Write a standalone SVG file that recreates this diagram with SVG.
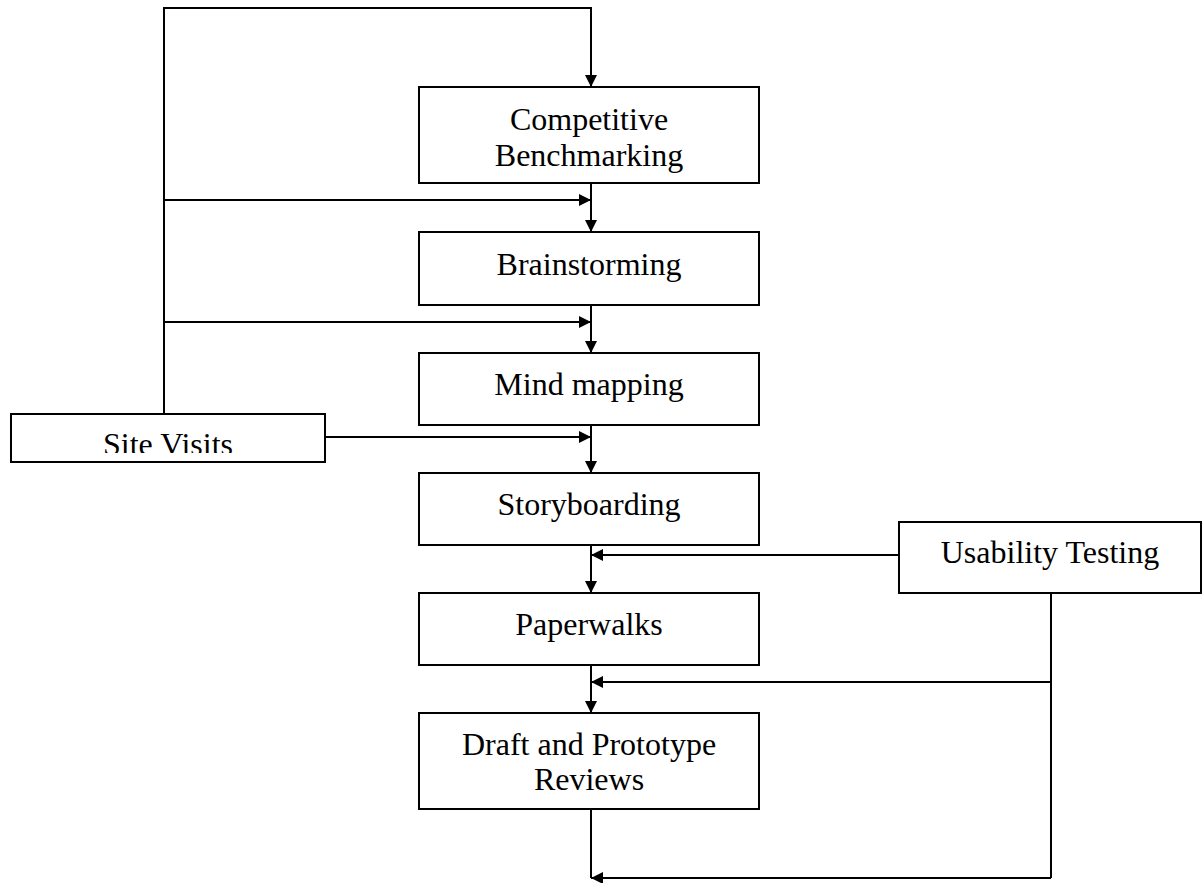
<svg xmlns="http://www.w3.org/2000/svg" width="1203" height="883" viewBox="0 0 1203 883">
  <style>
    .box { fill: #fff; stroke: #000; stroke-width: 2; }
    .lbl { font-family: "Liberation Serif", "Times New Roman", serif; font-size: 32px; fill: #000; text-anchor: middle; }
    .wire { fill: none; stroke: #000; stroke-width: 2; }
  </style>
  <defs>
    <marker id="arrow" viewBox="0 0 12 12" refX="12" refY="6" markerWidth="12" markerHeight="12" markerUnits="userSpaceOnUse" orient="auto">
      <path d="M0,0 L12,6 L0,12 Z" fill="#000"/>
    </marker>
    <clipPath id="siteClip">
      <rect x="11" y="414" width="314" height="39"/>
    </clipPath>
  </defs>

  <rect width="1203" height="883" fill="#fff"/>

  <!-- connectors -->
  <g id="connectors">
    <!-- Site Visits feeds -->
    <path class="wire" d="M164,414 V8 H591 V87" marker-end="url(#arrow)"/>
    <path class="wire" d="M164,200 H591" marker-end="url(#arrow)"/>
    <path class="wire" d="M164,322 H591" marker-end="url(#arrow)"/>
    <path class="wire" d="M325,437 H591" marker-end="url(#arrow)"/>
    <!-- main column -->
    <path class="wire" d="M591,183 V232" marker-end="url(#arrow)"/>
    <path class="wire" d="M591,305 V353" marker-end="url(#arrow)"/>
    <path class="wire" d="M591,425 V473" marker-end="url(#arrow)"/>
    <path class="wire" d="M591,545 V593" marker-end="url(#arrow)"/>
    <path class="wire" d="M591,665 V713" marker-end="url(#arrow)"/>
    <path class="wire" d="M591,809 V878"/>
    <!-- Usability Testing feedback -->
    <path class="wire" d="M899,555 H591" marker-end="url(#arrow)"/>
    <path class="wire" d="M1051,593 V878"/>
    <path class="wire" d="M1051,682 H591" marker-end="url(#arrow)"/>
    <path class="wire" d="M1051,878 H591" marker-end="url(#arrow)"/>
  </g>

  <g id="competitive-benchmarking">
    <rect class="box" x="419" y="87" width="340" height="96"/>
    <text class="lbl" x="589" y="130">Competitive</text>
    <text class="lbl" x="589" y="166">Benchmarking</text>
  </g>

  <g id="brainstorming">
    <rect class="box" x="419" y="232" width="340" height="73"/>
    <text class="lbl" x="589" y="275">Brainstorming</text>
  </g>

  <g id="mind-mapping">
    <rect class="box" x="419" y="353" width="340" height="72"/>
    <text class="lbl" x="589" y="395">Mind mapping</text>
  </g>

  <g id="storyboarding">
    <rect class="box" x="419" y="473" width="340" height="72"/>
    <text class="lbl" x="589" y="515">Storyboarding</text>
  </g>

  <g id="paperwalks">
    <rect class="box" x="419" y="593" width="340" height="72"/>
    <text class="lbl" x="589" y="635">Paperwalks</text>
  </g>

  <g id="draft-prototype-reviews">
    <rect class="box" x="419" y="713" width="340" height="96"/>
    <text class="lbl" x="589" y="755">Draft and Prototype</text>
    <text class="lbl" x="589" y="790">Reviews</text>
  </g>

  <g id="site-visits">
    <rect class="box" x="11" y="414" width="314" height="48"/>
    <text class="lbl" x="168" y="455" clip-path="url(#siteClip)">Site Visits</text>
  </g>

  <g id="usability-testing">
    <rect class="box" x="899" y="522" width="302" height="71"/>
    <text class="lbl" x="1050" y="563">Usability Testing</text>
  </g>
</svg>
